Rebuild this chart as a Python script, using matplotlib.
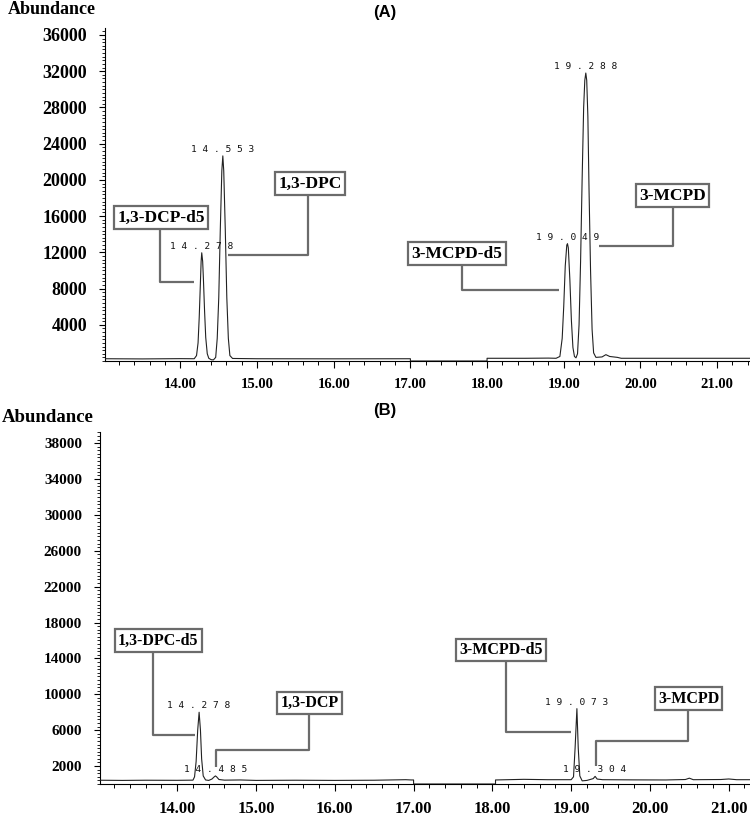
import numpy as np
import matplotlib
matplotlib.use("Agg")
import matplotlib.pyplot as plt
from matplotlib.ticker import MultipleLocator, FormatStrFormatter

plt.rcParams['font.family'] = ['Liberation Serif', 'DejaVu Serif']

# ---- panel A trace (retention time in min, abundance) ----
time_a = [13.02, 13.5, 14.0, 14.18, 14.21, 14.23, 14.245, 14.26, 14.27, 14.278, 14.29,
          14.30, 14.315, 14.33, 14.35, 14.37, 14.40, 14.43, 14.46, 14.48, 14.50, 14.52,
          14.54, 14.553, 14.565, 14.585, 14.605, 14.625, 14.645, 14.68, 15.0, 16.0, 17.0,
          17.0, 18.0, 18.0, 18.5, 18.8, 18.9, 18.95, 18.98, 19.00, 19.02, 19.04, 19.049,
          19.06, 19.08, 19.10, 19.12, 19.14, 19.16, 19.18, 19.20, 19.22, 19.24, 19.26,
          19.275, 19.288, 19.30, 19.315, 19.33, 19.35, 19.37, 19.39, 19.42, 19.5, 19.55,
          19.6, 19.7, 19.75, 20.5, 21.43]
abund_a = [250, 230, 260, 250, 600, 2000, 4800, 8500, 11000, 11950, 11000,
           9000, 5500, 2600, 800, 300, 150, 120, 400, 2500, 7000, 14500,
           21000, 22650, 21000, 14500, 7000, 2500, 600, 280, 250, 240, 250,
           0, 0, 300, 300, 320, 300, 500, 2500, 6000, 10500, 12800, 12950,
           12500, 9000, 4500, 1500, 500, 350, 800, 4000, 11000, 20000, 28000,
           31000, 31800, 31000, 27000, 19000, 10000, 3500, 900, 400, 450, 700,
           500, 400, 300, 300, 300]

# ---- panel B trace ----
time_b = [13.02, 13.3, 13.6, 14.0, 14.2, 14.22, 14.24, 14.26, 14.278, 14.295, 14.31,
          14.33, 14.36, 14.40, 14.44, 14.47, 14.485, 14.50, 14.53, 14.6, 14.8, 15.0,
          15.5, 16.0, 16.5, 16.9, 16.97, 17.0, 17.0, 18.04, 18.04, 18.4, 18.7, 19.0,
          19.03, 19.05, 19.073, 19.09, 19.11, 19.14, 19.2, 19.28, 19.304, 19.33, 19.4,
          19.8, 20.2, 20.45, 20.5, 20.55, 20.9, 21.0, 21.1, 21.27]
abund_b = [420, 400, 420, 410, 430, 800, 2500, 6000, 8000, 6000, 2800,
           900, 450, 400, 550, 800, 900, 800, 500, 430, 450, 400,
           420, 400, 420, 480, 450, 450, 0, 0, 450, 520, 480, 480,
           800, 4000, 8400, 4000, 900, 350, 400, 600, 850, 550, 480,
           460, 450, 500, 650, 480, 500, 560, 480, 480]

# peak labels
rt_a = [14.278, 14.553, 19.049, 19.288]
top_a = [11950, 22650, 12950, 31800]
rt_b = [14.278, 14.485, 19.073, 19.304]
top_b = [8000, 900, 8400, 850]

# compound boxes: name, box (x, y), elbow path
names_a = ['1,3-DCP-d5', '1,3-DPC', '3-MCPD-d5', '3-MCPD']
box_a = [(13.747, 15840), (15.691, 19600), (17.608, 11870), (20.42, 18270)]
path_a = [([13.734, 13.734, 14.177], [15840, 8720, 8720]),
          ([15.665, 15.665, 14.621], [19600, 11700, 11700]),
          ([17.673, 17.673, 18.939], [11870, 7840, 7840]),
          ([20.427, 20.427, 19.456], [18270, 12700, 12700])]

names_b = ['1,3-DPC-d5', '1,3-DCP', '3-MCPD-d5', '3-MCPD']
box_b = [(13.758, 16000), (15.677, 9030), (18.114, 14940), (20.49, 9530)]
path_b = [([13.694, 13.694, 14.23], [16000, 5460, 5460]),
          ([15.671, 15.671, 14.497, 14.497], [9030, 3790, 3790, 1895]),
          ([18.171, 18.171, 19.0], [14940, 5800, 5800]),
          ([20.48, 20.48, 19.319, 19.319], [9530, 4790, 4790, 2005])]

gray = '#6b6b6b'

fig = plt.figure(figsize=(7.5, 8.19), dpi=100)
ax1 = fig.add_axes([105/750, 1-361/819, 645/750, 333/819])
ax2 = fig.add_axes([100/750, 1-784/819, 650/750, 352/819])


def panel(ax, t, a, rts, tops, names, boxes, paths, xlim, ylim, ymaj,
          ysize, xsize, boxsize):
    ax.plot(t, a, color='#222222', linewidth=0.8, zorder=3)
    ax.set_xlim(*xlim)
    ax.set_ylim(*ylim)
    for s in ['top', 'right']:
        ax.spines[s].set_visible(False)
    ax.spines['left'].set_linewidth(0.8)
    ax.spines['bottom'].set_linewidth(0.8)
    ax.xaxis.set_major_locator(MultipleLocator(1))
    ax.xaxis.set_minor_locator(MultipleLocator(0.2))
    ax.xaxis.set_major_formatter(FormatStrFormatter('%.2f'))
    ax.set_yticks(ymaj)
    ax.yaxis.set_minor_locator(MultipleLocator(400))
    ax.tick_params(axis='x', which='major', length=5, width=0.8, pad=7,
                   labelsize=xsize)
    ax.tick_params(axis='x', which='minor', length=3, width=0.7)
    ax.tick_params(axis='y', which='major', length=4, width=0.8, pad=9,
                   labelsize=ysize)
    ax.tick_params(axis='y', which='minor', length=2, width=0.6)
    for lab in ax.get_xticklabels() + ax.get_yticklabels():
        lab.set_fontweight('bold')

    for rt, h in zip(rts, tops):
        ax.annotate(' '.join(f'{rt:.3f}'), (rt, h), xytext=(0, 1.5),
                    textcoords='offset points', ha='center', va='bottom',
                    fontsize=6.8, family='DejaVu Sans Mono', color='#111111',
                    zorder=4)

    for name, (bx, by), (px, py) in zip(names, boxes, paths):
        ax.plot(px, py, color=gray, linewidth=1.6, zorder=2,
                solid_capstyle='butt', clip_on=False)
        ax.text(bx, by, name, ha='center', va='center', fontsize=boxsize,
                fontweight='bold', zorder=5,
                bbox=dict(boxstyle='square,pad=0.2', facecolor='white',
                          edgecolor=gray, linewidth=1.6))


panel(ax1, time_a, abund_a, rt_a, top_a, names_a, box_a, path_a,
      (13.016, 21.43), (0, 36773), list(range(4000, 36001, 4000)),
      13, 10.5, 12.5)
panel(ax2, time_b, abund_b, rt_b, top_b, names_b, box_b, path_b,
      (13.02, 21.27), (0, 39240), list(range(2000, 38001, 4000)),
      11, 12, 11.5)

fig.text(8/750, 1-10/819, 'Abundance', fontsize=13, fontweight='bold',
         ha='left', va='center')
fig.text(2/750, 1-418/819, 'Abundance', fontsize=13.5, fontweight='bold',
         ha='left', va='center')
fig.text(385/750, 1-13/819, '(A)', fontsize=12, fontweight='bold',
         family='Liberation Sans', ha='center', va='center')
fig.text(385/750, 1-410/819, '(B)', fontsize=12, fontweight='bold',
         family='Liberation Sans', ha='center', va='center')

fig.savefig('out.png', dpi=100)
